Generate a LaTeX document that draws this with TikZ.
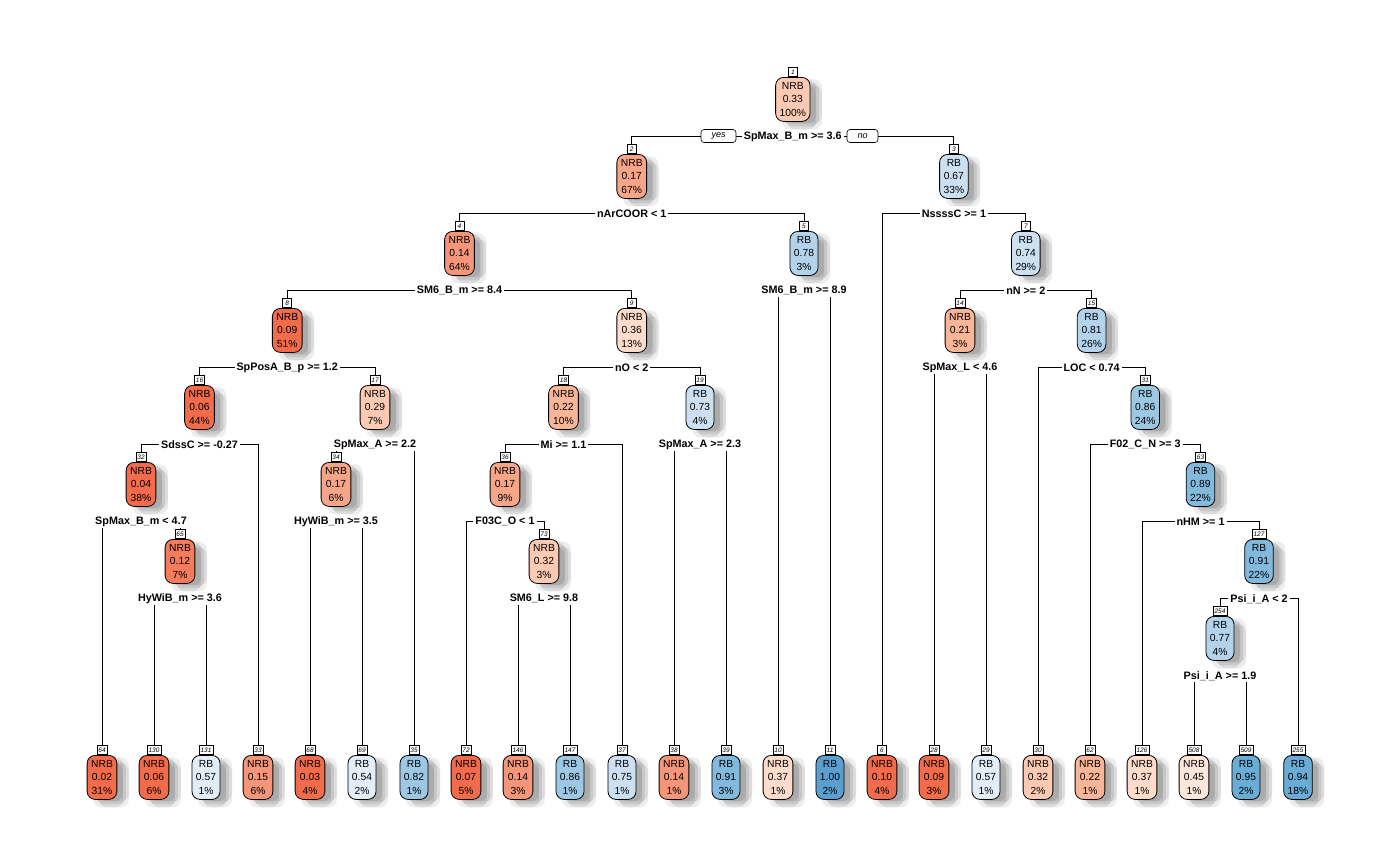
\documentclass[tikz,border=0pt]{standalone}
\usepackage{fontspec}
\setmainfont{Liberation Sans}
\usetikzlibrary{shadows}
\definecolor{Na}{HTML}{F26B4A}
\definecolor{Nb}{HTML}{F47C5C}
\definecolor{Nc}{HTML}{F5957A}
\definecolor{Nd}{HTML}{F7A588}
\definecolor{Ne}{HTML}{F9B598}
\definecolor{Nf}{HTML}{FCC9B2}
\definecolor{Ng}{HTML}{FDDCCB}
\definecolor{Nh}{HTML}{FEE6DA}
\definecolor{Ba}{HTML}{E2EDF8}
\definecolor{Bb}{HTML}{CDE0F2}
\definecolor{Bc}{HTML}{B3D3EA}
\definecolor{Bd}{HTML}{9DC8E4}
\definecolor{Be}{HTML}{82B9DD}
\definecolor{Bf}{HTML}{69ACD6}
\definecolor{Bg}{HTML}{5A9FD0}
\tikzset{
  body/.style={draw=black, line width=0.8pt, rounded corners=8pt, align=center,
    font=\fontsize{10.3}{13.3}\selectfont, inner xsep=4pt, inner ysep=2pt,
    minimum width=28pt, minimum height=44pt, anchor=north,
    drop shadow={shadow xshift=6pt, shadow yshift=-2pt, fill=black, opacity=0.07},
    drop shadow={shadow xshift=12pt, shadow yshift=-2pt, fill=black, opacity=0.07},
    drop shadow={shadow xshift=6pt, shadow yshift=-8pt, fill=black, opacity=0.07},
    drop shadow={shadow xshift=12pt, shadow yshift=-8pt, fill=black, opacity=0.07},
    drop shadow={shadow xshift=9pt, shadow yshift=-5pt, fill=black, opacity=0.09}},
  numbox/.style={draw=black, line width=0.6pt, fill=white, anchor=south,
    font=\fontsize{6.5}{7}\selectfont\itshape, inner xsep=1.5pt, inner ysep=0.8pt,
    minimum width=9pt, minimum height=9pt},
  splitlbl/.style={fill=white, inner xsep=2pt, inner ysep=1.5pt,
    font=\fontsize{10.8}{12}\selectfont\bfseries},
  yesno/.style={draw=black, line width=0.6pt, fill=white, rounded corners=3pt,
    font=\fontsize{9}{10}\selectfont\itshape, minimum height=13pt, inner sep=1pt},
  edge/.style={draw=black, line width=0.9pt}
}
\newcommand\tn[8]{%
  \node[body, fill=#8] (n#1) at (#2,#3) {#5\\#6\\#7};
  \node[numbox] (m#1) at (n#1.north) {#4};
}
\newcommand\tsplit[3]{% parent, left child, right child
  \path (n#1.south) ++(0,15) coordinate (s#1);
  \draw[edge] (m#2.north) |- (s#1) -| (m#3.north);
}
\newcommand\tlabel[2]{\node[splitlbl] (l#1) at (s#1) {#2};}
\begin{document}
\begin{tikzpicture}[x=1pt,y=-1pt]
\useasboundingbox (0,0) rectangle (1400,865);
\fill[white] (0,0) rectangle (1400,865);
% internal nodes
\tn{1}{792.8}{77}{1}{NRB}{0.33}{100\%}{Nf}
\tn{2}{631.75}{154}{2}{NRB}{0.17}{67\%}{Nd}
\tn{3}{953.9}{154}{3}{RB}{0.67}{33\%}{Bb}
\tn{4}{459.5}{231}{4}{NRB}{0.14}{64\%}{Nc}
\tn{5}{804}{231}{5}{RB}{0.78}{3\%}{Bc}
\tn{7}{1025.8}{231}{7}{RB}{0.74}{29\%}{Bb}
\tn{8}{287.25}{308}{8}{NRB}{0.09}{51\%}{Na}
\tn{9}{631.75}{308}{9}{NRB}{0.36}{13\%}{Ng}
\tn{14}{960}{308}{14}{NRB}{0.21}{3\%}{Ne}
\tn{15}{1091.6}{308}{15}{RB}{0.81}{26\%}{Bc}
\tn{16}{199.5}{385}{16}{NRB}{0.06}{44\%}{Na}
\tn{17}{375}{385}{17}{NRB}{0.29}{7\%}{Nf}
\tn{18}{563.5}{385}{18}{NRB}{0.22}{10\%}{Ne}
\tn{19}{700}{385}{19}{RB}{0.73}{4\%}{Bb}
\tn{31}{1145.25}{385}{31}{RB}{0.86}{24\%}{Bd}
\tn{32}{141}{462}{32}{NRB}{0.04}{38\%}{Na}
\tn{34}{336}{462}{34}{NRB}{0.17}{6\%}{Nd}
\tn{36}{505}{462}{36}{NRB}{0.17}{9\%}{Nd}
\tn{63}{1200.5}{462}{63}{RB}{0.89}{22\%}{Be}
\tn{65}{180}{539}{65}{NRB}{0.12}{7\%}{Nb}
\tn{73}{544}{539}{73}{NRB}{0.32}{3\%}{Nf}
\tn{127}{1259}{539}{127}{RB}{0.91}{22\%}{Be}
\tn{254}{1220}{616}{254}{RB}{0.77}{4\%}{Bc}
% leaves
\tn{64}{102}{755}{64}{NRB}{0.02}{31\%}{Na}
\tn{130}{154}{755}{130}{NRB}{0.06}{6\%}{Na}
\tn{131}{206}{755}{131}{RB}{0.57}{1\%}{Ba}
\tn{33}{258}{755}{33}{NRB}{0.15}{6\%}{Nc}
\tn{68}{310}{755}{68}{NRB}{0.03}{4\%}{Na}
\tn{69}{362}{755}{69}{RB}{0.54}{2\%}{Ba}
\tn{35}{414}{755}{35}{RB}{0.82}{1\%}{Bd}
\tn{72}{466}{755}{72}{NRB}{0.07}{5\%}{Na}
\tn{146}{518}{755}{146}{NRB}{0.14}{3\%}{Nc}
\tn{147}{570}{755}{147}{RB}{0.86}{1\%}{Bd}
\tn{37}{622}{755}{37}{RB}{0.75}{1\%}{Bb}
\tn{38}{674}{755}{38}{NRB}{0.14}{1\%}{Nc}
\tn{39}{726}{755}{39}{RB}{0.91}{3\%}{Be}
\tn{10}{778}{755}{10}{NRB}{0.37}{1\%}{Ng}
\tn{11}{830}{755}{11}{RB}{1.00}{2\%}{Bg}
\tn{6}{882}{755}{6}{NRB}{0.10}{4\%}{Na}
\tn{28}{934}{755}{28}{NRB}{0.09}{3\%}{Na}
\tn{29}{986}{755}{29}{RB}{0.57}{1\%}{Ba}
\tn{30}{1038}{755}{30}{NRB}{0.32}{2\%}{Nf}
\tn{62}{1090}{755}{62}{NRB}{0.22}{1\%}{Ne}
\tn{126}{1142}{755}{126}{NRB}{0.37}{1\%}{Ng}
\tn{508}{1194}{755}{508}{NRB}{0.45}{1\%}{Nh}
\tn{509}{1246}{755}{509}{RB}{0.95}{2\%}{Bf}
\tn{255}{1298}{755}{255}{RB}{0.94}{18\%}{Bf}
% connectors
\tsplit{1}{2}{3}
\tsplit{2}{4}{5}
\tsplit{3}{6}{7}
\tsplit{4}{8}{9}
\tsplit{5}{10}{11}
\tsplit{7}{14}{15}
\tsplit{8}{16}{17}
\tsplit{9}{18}{19}
\tsplit{14}{28}{29}
\tsplit{15}{30}{31}
\tsplit{16}{32}{33}
\tsplit{17}{34}{35}
\tsplit{18}{36}{37}
\tsplit{19}{38}{39}
\tsplit{31}{62}{63}
\tsplit{32}{64}{65}
\tsplit{34}{68}{69}
\tsplit{36}{72}{73}
\tsplit{63}{126}{127}
\tsplit{65}{130}{131}
\tsplit{73}{146}{147}
\tsplit{127}{254}{255}
\tsplit{254}{508}{509}
% split labels
\tlabel{1}{SpMax\_B\_m >= 3.6}
\tlabel{2}{nArCOOR < 1}
\tlabel{3}{NssssC >= 1}
\tlabel{4}{SM6\_B\_m >= 8.4}
\tlabel{5}{SM6\_B\_m >= 8.9}
\tlabel{7}{nN >= 2}
\tlabel{8}{SpPosA\_B\_p >= 1.2}
\tlabel{9}{nO < 2}
\tlabel{14}{SpMax\_L < 4.6}
\tlabel{15}{LOC < 0.74}
\tlabel{16}{SdssC >= -0.27}
\tlabel{17}{SpMax\_A >= 2.2}
\tlabel{18}{Mi >= 1.1}
\tlabel{19}{SpMax\_A >= 2.3}
\tlabel{31}{F02\_C\_N >= 3}
\tlabel{32}{SpMax\_B\_m < 4.7}
\tlabel{34}{HyWiB\_m >= 3.5}
\tlabel{36}{F03C\_O < 1}
\tlabel{63}{nHM >= 1}
\tlabel{65}{HyWiB\_m >= 3.6}
\tlabel{73}{SM6\_L >= 9.8}
\tlabel{127}{Psi\_i\_A < 2}
\tlabel{254}{Psi\_i\_A >= 1.9}
% yes / no
\node[yesno, minimum width=35pt] (yes) at (718.5,136) {yes};
\node[yesno, minimum width=31pt] (no) at (862.5,136) {no};
\end{tikzpicture}
\end{document}
